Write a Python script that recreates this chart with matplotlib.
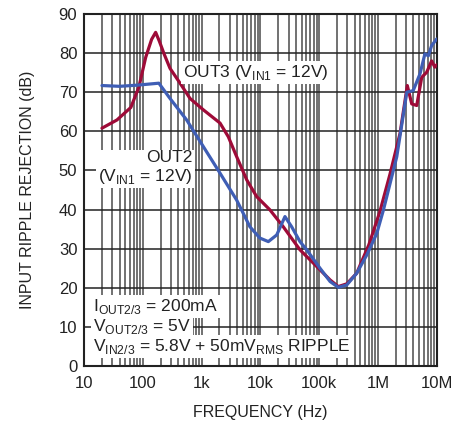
import matplotlib
matplotlib.use("Agg")
import matplotlib.pyplot as plt
from matplotlib.ticker import LogLocator, FixedLocator, NullFormatter

FONT = 'Liberation Sans'
plt.rcParams['font.family'] = [FONT, 'DejaVu Sans']
plt.rcParams['mathtext.fontset'] = 'custom'
plt.rcParams['mathtext.rm'] = FONT

# OUT3 (red)
out3_freq = [20, 36, 62, 85, 111, 140, 164, 190, 228, 288, 427, 631, 1062, 2046, 2833,
             3933, 5821, 8611, 14500, 24400, 47000, 79400, 153000, 211000, 294000, 434000,
             700000, 1080000, 1600000, 2380000, 3160000, 3760000, 4570000, 5560000,
             6760000, 8200000, 9300000, 10000000]
out3_db = [60.8, 62.9, 66.1, 71.3, 78.9, 83.5, 85.3, 83.0, 79.8, 76.1, 72.3, 68.4, 65.5, 62.1, 58.6,
           53.5, 47.6, 43.3, 39.9, 35.6, 29.7, 26.3, 22.0, 20.3, 21.0, 23.7,
           31.0, 39.5, 49.0, 59.5, 71.7, 67.0, 66.6, 73.8,
           75.1, 78.0, 76.4, 77.0]

# OUT2 (blue)
out2_freq = [20, 40, 80, 186, 288, 553, 1062, 2046, 3933, 6600, 9770, 13600, 18900,
             26100, 33900, 47000, 61200, 103000, 153000, 211000, 294000, 434000, 646000,
             955000, 1240000, 2090000, 3100000, 3980000, 5200000, 6300000, 7200000,
             8200000, 10000000]
out2_db = [71.7, 71.5, 71.8, 72.3, 68.4, 62.9, 56.1, 49.3, 42.4, 35.6, 32.7, 31.8, 33.5,
           38.2, 35.6, 31.8, 29.7, 25.0, 21.6, 20.1, 20.7, 23.7, 28.4,
           33.9, 39.9, 53.5, 70.0, 70.4, 74.7, 79.8, 79.3,
           81.9, 83.6]

x_ticks = [10, 100, 1e3, 1e4, 1e5, 1e6, 1e7]
x_labels = ['10', '100', '1k', '10k', '100k', '1M', '10M']
y_ticks = list(range(0, 91, 10))

RED = '#9E0B38'
BLUE = '#3F5EB5'
INK = '#222222'

fig = plt.figure(figsize=(4.67, 4.23), dpi=100)
ax = fig.add_axes([0.1805, 0.1348, 0.7546, 0.8322])
ax.set_xscale('log')
ax.set_xlim(10, 1e7)
ax.set_ylim(0, 90)

ax.xaxis.set_major_locator(FixedLocator(x_ticks))
ax.set_xticklabels(x_labels)
ax.xaxis.set_minor_locator(LogLocator(base=10, subs=range(2, 10), numticks=20))
ax.xaxis.set_minor_formatter(NullFormatter())
ax.set_yticks(y_ticks)

ax.grid(which='major', axis='x', color='#4a4a4a', lw=1.1)
ax.grid(which='minor', axis='x', color='#4a4a4a', lw=1.1)
ax.grid(which='major', axis='y', color='#222222', lw=1.1)
ax.set_axisbelow(True)
ax.tick_params(which='both', length=0, labelsize=12, colors=INK)
ax.tick_params(axis='x', pad=7)
ax.tick_params(axis='y', pad=5)
for s in ax.spines.values():
    s.set_linewidth(1.5)
    s.set_color(INK)

ax.plot(out3_freq, out3_db, color=RED, lw=2.3, solid_capstyle='round', solid_joinstyle='round', zorder=3)
ax.plot(out2_freq, out2_db, color=BLUE, lw=2.3, solid_capstyle='round', solid_joinstyle='round', zorder=4)

ax.set_xlabel('FREQUENCY (Hz)', fontsize=11.5, labelpad=10, color=INK)
ax.set_ylabel('INPUT RIPPLE REJECTION (dB)', fontsize=11.5, labelpad=17, color=INK)

bb = dict(facecolor='white', edgecolor='none', pad=1.5)
fs = 12.5
ax.text(479, 73.8, r'OUT3 (V$_{\mathregular{IN1}}$ = 12V)', fontsize=fs, va='baseline',
        ha='left', bbox=bb, zorder=5, color=INK)
ax.text(701, 47.3, 'OUT2\n' + r'(V$_{\mathregular{IN1}}$ = 12V)', fontsize=fs, va='baseline',
        ha='right', multialignment='right', linespacing=1.15, bbox=bb, zorder=5, color=INK)
ax.text(14, 14.1, r'I$_{\mathregular{OUT2/3}}$ = 200mA', fontsize=fs, va='baseline', ha='left',
        bbox=bb, zorder=5, color=INK)
ax.text(14, 9.0, r'V$_{\mathregular{OUT2/3}}$ = 5V', fontsize=fs, va='baseline', ha='left',
        bbox=bb, zorder=5, color=INK)
ax.text(14, 3.9, r'V$_{\mathregular{IN2/3}}$ = 5.8V + 50mV$_{\mathregular{RMS}}$ RIPPLE', fontsize=fs,
        va='baseline', ha='left', bbox=bb, zorder=5, color=INK)

fig.savefig('out.png', dpi=100)
